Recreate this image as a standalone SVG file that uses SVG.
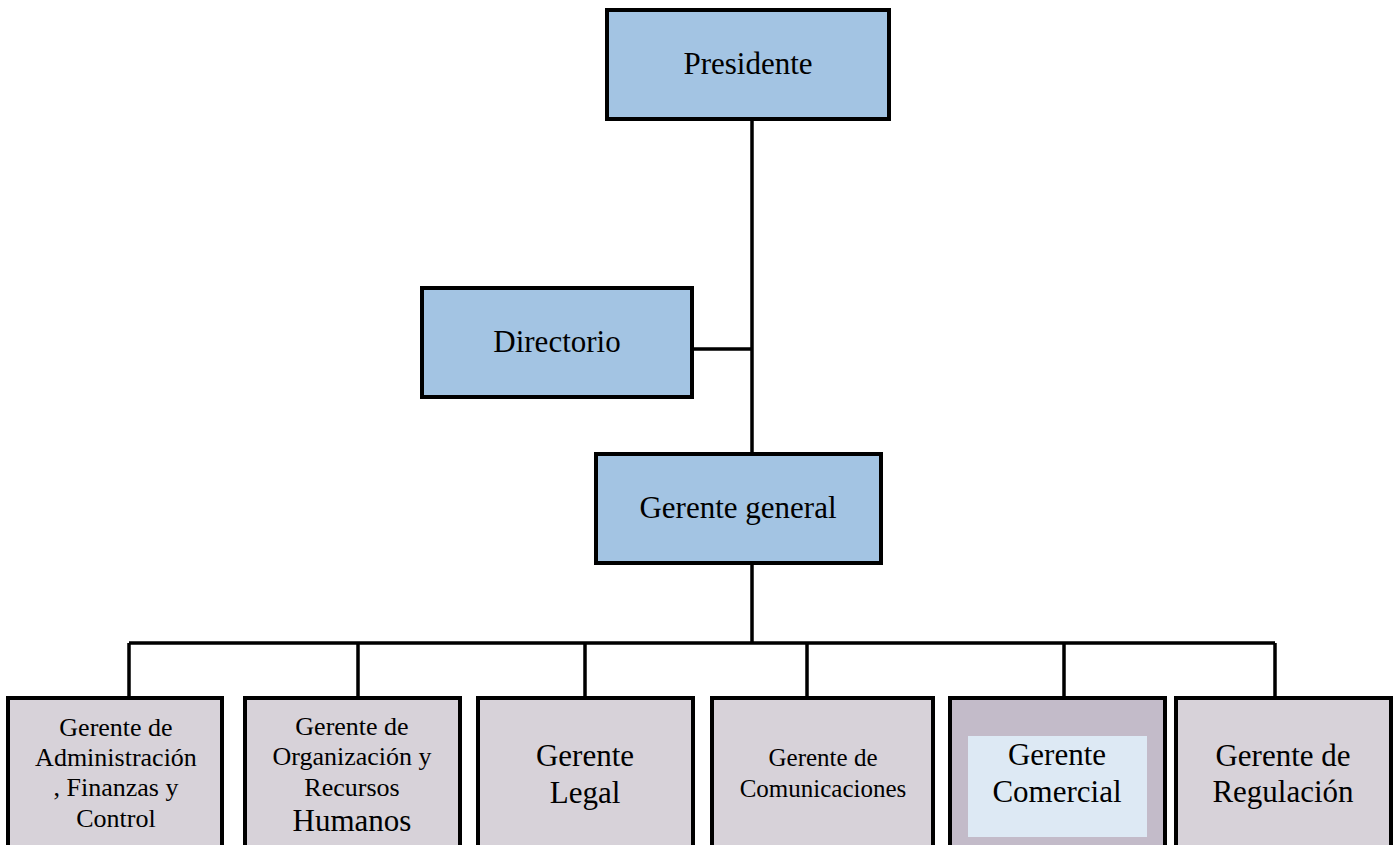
<svg xmlns="http://www.w3.org/2000/svg" width="1398" height="845" viewBox="0 0 1398 845">
<style>
.box{stroke:#000;stroke-width:4}
.blue{fill:#a3c4e3}
.grey{fill:#d7d2d9}
.dark{fill:#c3bbc9}
.inner{fill:#dde9f4}
text{font-family:"Liberation Serif","Times New Roman",serif;fill:#000;text-anchor:middle}
.big{font-size:31px}
.sm{font-size:26px}
.conn{stroke:#000;stroke-width:3.5;fill:none}
</style>
<rect width="1398" height="845" fill="#fff"/>
<g id="connectors">
<path class="conn" d="M752 119V454M692 349H752M752 563V643M129 643H1275M129 643V698M358 643V698M585 643V698M807 643V698M1064 643V698M1275 643V698"/>
</g>
<g id="presidente">
<rect class="box blue" x="607" y="10" width="282" height="109"/>
<text class="big" x="748" y="74">Presidente</text>
</g>
<g id="directorio">
<rect class="box blue" x="422" y="288" width="270" height="109"/>
<text class="big" x="557" y="352">Directorio</text>
</g>
<g id="gerente-general">
<rect class="box blue" x="596" y="454" width="285" height="109"/>
<text class="big" x="738" y="518">Gerente general</text>
</g>
<g id="gerente-administracion">
<rect class="box grey" x="8" y="698" width="214" height="170"/>
<text class="sm" x="116"><tspan x="116" y="736">Gerente de</tspan><tspan x="116" y="766">Administración</tspan><tspan x="116" y="796">, Finanzas y</tspan><tspan x="116" y="827">Control</tspan></text>
</g>
<g id="gerente-organizacion">
<rect class="box grey" x="245" y="698" width="215" height="170"/>
<text class="sm" x="352"><tspan x="352" y="735">Gerente de</tspan><tspan x="352" y="765">Organización y</tspan><tspan x="352" y="796">Recursos</tspan><tspan class="big" x="352" y="831">Humanos</tspan></text>
</g>
<g id="gerente-legal">
<rect class="box grey" x="478" y="698" width="215" height="170"/>
<text class="big" x="585"><tspan x="585" y="766">Gerente</tspan><tspan x="585" y="803">Legal</tspan></text>
</g>
<g id="gerente-comunicaciones">
<rect class="box grey" x="712" y="698" width="221" height="170"/>
<text x="823" style="font-size:25px"><tspan x="823" y="766">Gerente de</tspan><tspan x="823" y="797">Comunicaciones</tspan></text>
</g>
<g id="gerente-comercial">
<rect class="box dark" x="950" y="698" width="215" height="170"/>
<rect class="inner" x="968" y="736" width="179" height="101"/>
<text class="big" x="1057"><tspan x="1057" y="765">Gerente</tspan><tspan x="1057" y="802">Comercial</tspan></text>
</g>
<g id="gerente-regulacion">
<rect class="box grey" x="1176" y="698" width="215" height="170"/>
<text class="big" x="1283"><tspan x="1283" y="766">Gerente de</tspan><tspan x="1283" y="802">Regulación</tspan></text>
</g>
</svg>
